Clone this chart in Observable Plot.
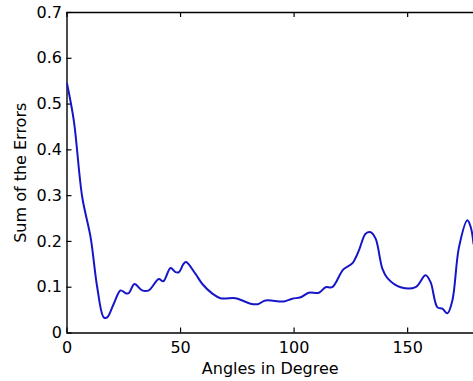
<!DOCTYPE html>
<html><head><meta charset="utf-8">
<script src="https://cdn.jsdelivr.net/npm/d3@7"></script>
<script src="https://cdn.jsdelivr.net/npm/@observablehq/plot@0.6"></script>
<style>html,body{margin:0;padding:0;background:#fff;overflow:hidden}</style>
</head><body><div id="chart"></div>
<script>
const angles = [0, 3, 6.7, 10.4, 13.3, 16.2, 17.7, 20.6, 23.6, 25.8, 27.2, 29.7, 33.1, 36, 40.4, 42.4, 45.6, 47.8, 49.3, 51.2, 52.4, 56.6, 59.6, 64, 67.6, 74.2, 77.2, 80.8, 84, 87.4, 95.5, 99.2, 102.9, 106.5, 110.9, 113.9, 116.8, 121.7, 125.6, 128.5, 131.5, 133.7, 135.9, 138.9, 141.1, 146.9, 153.5, 157.9, 160.1, 163.1, 165.3, 167.5, 169.7, 172.6, 176.3, 177.8, 179];
const errors = [0.545, 0.464, 0.297, 0.209, 0.100, 0.034, 0.034, 0.064, 0.093, 0.087, 0.087, 0.107, 0.093, 0.093, 0.118, 0.113, 0.142, 0.133, 0.133, 0.150, 0.155, 0.129, 0.107, 0.086, 0.076, 0.076, 0.071, 0.064, 0.063, 0.071, 0.069, 0.075, 0.078, 0.088, 0.088, 0.100, 0.100, 0.139, 0.152, 0.180, 0.217, 0.220, 0.206, 0.140, 0.120, 0.100, 0.100, 0.126, 0.111, 0.056, 0.053, 0.043, 0.071, 0.187, 0.246, 0.231, 0.195];
const xTicks = [0, 50, 100, 150];
const yTicks = [0, 0.1, 0.2, 0.3, 0.4, 0.5, 0.6, 0.7];
const xLabel = "Angles in Degree";
const yLabel = "Sum of the Errors";

const data = angles.map((a, i) => ({angle: a, error: errors[i]}));
const W = 473, H = 381, mL = 66.5, mR = 0, mT = 12, mB = 48.5;
const frameW = W - mL - mR, frameH = H - mT - mB;
const tk = 5;

const chart = Plot.plot({
  width: W, height: H,
  marginLeft: mL, marginRight: mR, marginTop: mT, marginBottom: mB,
  style: {fontFamily: "DejaVu Sans", fontSize: "16px", color: "#000", background: "#fff", overflow: "hidden"},
  x: {domain: [0, 179]},
  y: {domain: [0, 0.7]},
  marks: [
    Plot.axisX(xTicks, {tickSize: 0, tickPadding: 9, label: null, fontSize: 16}),
    Plot.axisY(yTicks, {tickSize: 0, tickPadding: 5, label: null, fontSize: 16, tickFormat: d => d === 0 ? "0" : d.toFixed(1)}),
    Plot.tickX(xTicks, {x: d => d, insetTop: frameH - tk, stroke: "#000", strokeWidth: 1.2}),
    Plot.tickX(xTicks, {x: d => d, insetBottom: frameH - tk, stroke: "#000", strokeWidth: 1.2}),
    Plot.tickY(yTicks, {y: d => d, insetRight: frameW - tk, stroke: "#000", strokeWidth: 1.2}),
    Plot.ruleY([0, 0.7], {stroke: "#000", strokeWidth: 1.4}),
    Plot.ruleX([0], {stroke: "#000", strokeWidth: 1.4}),
    Plot.line(data, {x: "angle", y: "error", stroke: "#1616c8", strokeWidth: 2, curve: "catmull-rom", clip: true}),
    Plot.text([xLabel], {frameAnchor: "bottom", dy: 40.5, lineAnchor: "bottom", textAnchor: "middle", fontSize: 16, fill: "#000"}),
    Plot.text([yLabel], {frameAnchor: "left", dx: -46.5, rotate: -90, textAnchor: "middle", fontSize: 16, fill: "#000"})
  ]
});
document.getElementById("chart").appendChild(chart);
</script>
</body></html>
